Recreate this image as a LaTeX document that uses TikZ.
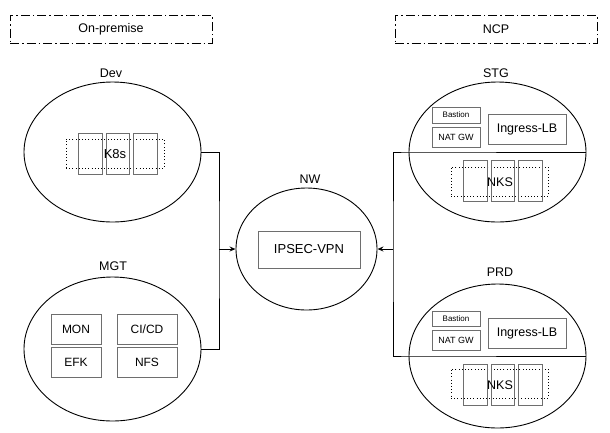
\documentclass[tikz,border=0pt]{standalone}
\usepackage{fontspec}
\setmainfont{Liberation Sans}
\usetikzlibrary{shapes.geometric,arrows.meta}
\definecolor{boxgray}{RGB}{110,110,110}
\newcommand{\fs}[1]{\fontsize{#1}{#1}\selectfont}
\tikzset{
  titlebox/.style={draw=black, line width=0.9pt, dash pattern=on 9pt off 3pt on 1.5pt off 3pt, minimum width=202pt, minimum height=28pt, inner sep=0pt, font=\fs{12.5}},
  zone/.style={draw=black, line width=0.9pt, ellipse, inner sep=0pt},
  lbl/.style={font=\fs{12.5}, inner sep=0pt},
  gbox/.style={draw=boxgray, line width=0.9pt, inner sep=0pt},
  dotbox/.style={draw=black, line width=0.9pt, dash pattern=on 1pt off 2.2pt, inner sep=0pt},
  conn/.style={draw=black, line width=0.9pt},
  arr/.style={conn, -{Stealth[length=6pt,width=5pt,open]}}
}
\begin{document}
\begin{tikzpicture}[x=1pt,y=-1pt]
\useasboundingbox (0,0) rectangle (610,432);
% titles
\node[titlebox] (onprem) at (111,29) {On-premise};
\node[titlebox] (ncp) at (496,29) {NCP};
% Dev
\node[lbl] (devl) at (111,73) {Dev};
\node[zone, minimum width=177pt, minimum height=140pt] (dev) at (112.5,152) {};
\node[dotbox, minimum width=98pt, minimum height=29pt] (devdot) at (115,153.5) {};
\node[gbox, minimum width=24pt, minimum height=41pt] (devr1) at (90,153.5) {};
\node[gbox, minimum width=23pt, minimum height=41pt] (devr2) at (117.5,153.5) {};
\node[gbox, minimum width=24pt, minimum height=41pt] (devr3) at (145,153.5) {};
\node[lbl, font=\fs{13}] (k8s) at (115,154) {K8s};
% MGT
\node[lbl] (mgtl) at (113,266) {MGT};
\node[zone, minimum width=177pt, minimum height=144pt] (mgt) at (112.5,349) {};
\node[gbox, minimum width=50pt, minimum height=30pt, font=\fs{12}] (mon) at (76,329) {MON};
\node[gbox, minimum width=60pt, minimum height=30pt, font=\fs{12}] (cicd) at (147,329) {CI/CD};
\node[gbox, minimum width=50pt, minimum height=30pt, font=\fs{12}] (efk) at (76,362) {EFK};
\node[gbox, minimum width=60pt, minimum height=30pt, font=\fs{12}] (nfs) at (147,362) {NFS};
% NW
\node[lbl] (nwl) at (310,179) {NW};
\node[zone, minimum width=141pt, minimum height=122pt] (nw) at (306.5,249) {};
\node[gbox, minimum width=102pt, minimum height=37pt, font=\fs{13}] (vpn) at (309,249.5) {IPSEC-VPN};
% STG
\node[lbl] (stgl) at (496,73) {STG};
\node[zone, minimum width=177pt, minimum height=140pt] (stg) at (497.5,152) {};
\node[gbox, minimum width=48pt, minimum height=16pt, font=\fs{8}] (stgb) at (456,115) {Bastion};
\node[gbox, minimum width=48pt, minimum height=20pt, font=\fs{9}] (stgn) at (456,137) {NAT GW};
\node[gbox, minimum width=78pt, minimum height=30pt, font=\fs{12.5}] (stgi) at (527,129) {Ingress-LB};
\node[dotbox, minimum width=97pt, minimum height=29pt] (stgdot) at (499.5,181.5) {};
\node[gbox, minimum width=24pt, minimum height=41pt] (stgr1) at (475,180.5) {};
\node[gbox, minimum width=23pt, minimum height=41pt] (stgr2) at (502.5,180.5) {};
\node[gbox, minimum width=24pt, minimum height=41pt] (stgr3) at (530,180.5) {};
\node[lbl, font=\fs{12.5}] (stgk) at (500,182) {NKS};
% PRD
\node[lbl] (prdl) at (500,272) {PRD};
\node[zone, minimum width=177pt, minimum height=144pt] (prd) at (497.5,356) {};
\node[gbox, minimum width=48pt, minimum height=15pt, font=\fs{8}] (prdb) at (456,318.5) {Bastion};
\node[gbox, minimum width=48pt, minimum height=20pt, font=\fs{9}] (prdn) at (456,340) {NAT GW};
\node[gbox, minimum width=78pt, minimum height=30pt, font=\fs{12.5}] (prdi) at (527,333) {Ingress-LB};
\node[dotbox, minimum width=97pt, minimum height=29pt] (prddot) at (499.5,383.5) {};
\node[gbox, minimum width=24pt, minimum height=41pt] (prdr1) at (475,384.5) {};
\node[gbox, minimum width=23pt, minimum height=41pt] (prdr2) at (502.5,384.5) {};
\node[gbox, minimum width=24pt, minimum height=41pt] (prdr3) at (530,384.5) {};
\node[lbl, font=\fs{12.5}] (prdk) at (500,385) {NKS};
% connectors
\coordinate (jl) at (219,249);
\coordinate (jr) at (393,249);
\draw[conn] (dev.east) -| (jl) |- (mgt.east);
\draw[arr] (jl) -- (nw.west);
\draw[conn] (stg.east) -- (stg.west) -| (jr) |- (prd.west) -- (prd.east);
\draw[arr] (jr) -- (nw.east);
\end{tikzpicture}
\end{document}
